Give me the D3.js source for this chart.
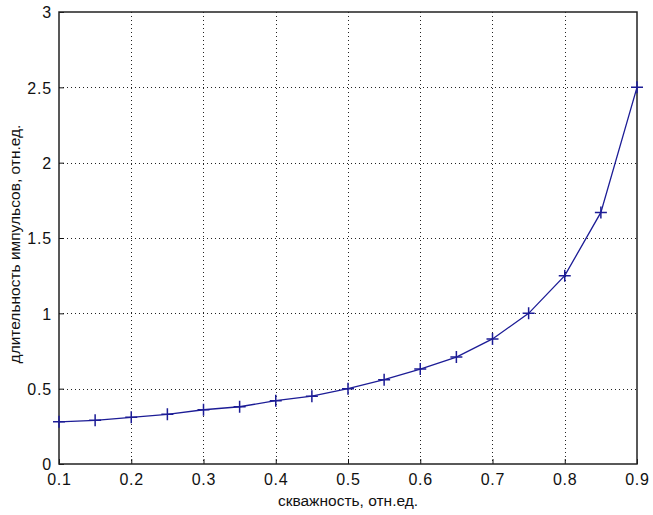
<!DOCTYPE html>
<html>
<head>
<meta charset="utf-8">
<script src="https://cdn.jsdelivr.net/npm/d3@7"></script>
<style>
  body { margin: 0; background: #fff; }
  svg { display: block; }
  .tick text { font-family: "Liberation Sans", Arial, sans-serif; font-size: 16px; fill: #111; letter-spacing: 0.8px; }
  .title { font-family: "Liberation Sans", Arial, sans-serif; font-size: 15.5px; fill: #111; }
</style>
</head>
<body>
<div id="chart"></div>
<script>
// Chart size and plot box
const width = 653;
const height = 515;
const margin = {top: 12, right: 16, bottom: 51, left: 59};

// Data
const duty = [0.1, 0.15, 0.2, 0.25, 0.3, 0.35, 0.4, 0.45, 0.5, 0.55, 0.6, 0.65, 0.7, 0.75, 0.8, 0.85, 0.9];
const pulseLen = [0.28, 0.29, 0.31, 0.33, 0.36, 0.38, 0.42, 0.45, 0.5, 0.56, 0.63, 0.71, 0.83, 1.0, 1.25, 1.67, 2.5];
const xTicks = [0.1, 0.2, 0.3, 0.4, 0.5, 0.6, 0.7, 0.8, 0.9];
const yTicks = [0, 0.5, 1, 1.5, 2, 2.5, 3];

const points = duty.map((d, i) => ({x: d, y: pulseLen[i]}));

const svg = d3.select("#chart").append("svg")
    .attr("width", width)
    .attr("height", height);

const innerW = width - margin.left - margin.right;
const innerH = height - margin.top - margin.bottom;

const x = d3.scaleLinear().domain([0.1, 0.9]).range([margin.left, margin.left + innerW]);
const y = d3.scaleLinear().domain([0, 3]).range([margin.top + innerH, margin.top]);

// Dotted grid
const grid = svg.append("g").attr("stroke", "#222").attr("stroke-dasharray", "1,3").attr("stroke-width", 1);
grid.selectAll(".gx")
    .data(xTicks.slice(1, -1))
    .enter().append("line")
    .attr("x1", d => Math.round(x(d)) + 0.5)
    .attr("x2", d => Math.round(x(d)) + 0.5)
    .attr("y1", y(3))
    .attr("y2", y(0));
grid.selectAll(".gy")
    .data(yTicks.slice(1, -1))
    .enter().append("line")
    .attr("y1", d => Math.round(y(d)) + 0.5)
    .attr("y2", d => Math.round(y(d)) + 0.5)
    .attr("x1", x(0.1))
    .attr("x2", x(0.9));

// Axes
const xAxis = d3.axisBottom(x).tickValues(xTicks).tickFormat(d3.format("")).tickSizeInner(-5).tickSizeOuter(0).tickPadding(10);
const yAxis = d3.axisLeft(y).tickValues(yTicks).tickFormat(d3.format("")).tickSizeInner(-5).tickSizeOuter(0).tickPadding(7);

svg.append("g")
    .attr("transform", `translate(0,${y(0)})`)
    .call(xAxis)
    .call(g => g.select(".domain").remove())
    .call(g => g.selectAll("line").attr("stroke", "#111"));

svg.append("g")
    .attr("transform", `translate(${x(0.1)},0)`)
    .call(yAxis)
    .call(g => g.select(".domain").remove())
    .call(g => g.selectAll("line").attr("stroke", "#111"))
    .call(g => g.selectAll("text").attr("dy", "0.36em"));

// Box around plot
svg.append("rect")
    .attr("x", x(0.1))
    .attr("y", y(3))
    .attr("width", x(0.9) - x(0.1))
    .attr("height", y(0) - y(3))
    .attr("fill", "none")
    .attr("stroke", "#222")
    .attr("stroke-width", 1.5);

// Curve
const line = d3.line().x(d => x(d.x)).y(d => y(d.y));
svg.append("path")
    .datum(points)
    .attr("d", line)
    .attr("fill", "none")
    .attr("stroke", "#1c1c96")
    .attr("stroke-width", 1.3);

// Plus markers
const m = 6;
svg.append("g").selectAll("path")
    .data(points)
    .enter().append("path")
    .attr("d", d => `M${x(d.x) - m},${y(d.y)}H${x(d.x) + m}M${x(d.x)},${y(d.y) - m}V${y(d.y) + m}`)
    .attr("stroke", "#1c1c96")
    .attr("stroke-width", 1.5)
    .attr("fill", "none");

// Axis titles
svg.append("text")
    .attr("class", "title")
    .attr("x", (x(0.1) + x(0.9)) / 2)
    .attr("y", 506)
    .attr("text-anchor", "middle")
    .text("скважность, отн.ед.");

svg.append("text")
    .attr("class", "title")
    .attr("transform", `translate(20,${(y(0) + y(3)) / 2 + 6}) rotate(-90)`)
    .attr("text-anchor", "middle")
    .text("длительность импульсов, отн.ед.");
</script>
</body>
</html>
